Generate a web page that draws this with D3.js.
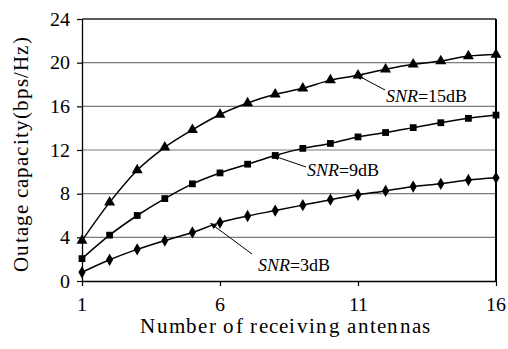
<!DOCTYPE html>
<html>
<head>
<meta charset="utf-8">
<style>
  @font-face { font-family: 'ChartSerif'; src: local('Liberation Serif'), local('LiberationSerif'), local('Liberation Serif Regular'); font-style: normal; font-weight: 400; }
  @font-face { font-family: 'ChartSerif'; src: local('Liberation Serif Italic'), local('LiberationSerif-Italic'); font-style: italic; font-weight: 400; }
  body { margin: 0; background: #fff; }
  svg text { font-family: 'ChartSerif', 'Liberation Serif', 'Times New Roman', serif; }
</style>
<script src="https://cdn.jsdelivr.net/npm/d3@7"></script>
</head>
<body>
<div id="chart"></div>
<script>
const antennas = d3.range(1, 17);
const snr15 = [3.7, 7.2, 10.15, 12.25, 13.85, 15.25, 16.3, 17.1, 17.65, 18.4, 18.85, 19.4, 19.85, 20.15, 20.6, 20.75];
const snr9 = [2.05, 4.2, 6.0, 7.55, 8.9, 9.9, 10.7, 11.5, 12.15, 12.6, 13.2, 13.6, 14.05, 14.5, 14.9, 15.2];
const snr3 = [0.8, 1.95, 2.9, 3.7, 4.45, 5.35, 5.95, 6.45, 6.95, 7.45, 7.9, 8.25, 8.65, 8.9, 9.25, 9.45];
const yTicks = [0, 4, 8, 12, 16, 20, 24];
const xTicks = [1, 6, 11, 16];

const FONT = "'ChartSerif', 'Liberation Serif', 'Times New Roman', serif";
const width = 508, height = 349;

const svg = d3.select('#chart').append('svg')
  .attr('width', width)
  .attr('height', height)
  .style('display', 'block');

const x = d3.scaleLinear().domain([1, 16]).range([82, 496]);
const y = d3.scaleLinear().domain([0, 24]).range([281, 19]);

// gridlines
svg.append('g')
  .selectAll('line')
  .data(yTicks.filter(t => t > 0 && t < 24))
  .join('line')
  .attr('x1', x(1)).attr('x2', x(16))
  .attr('y1', d => y(d)).attr('y2', d => y(d))
  .attr('stroke', '#7a7a7a')
  .attr('stroke-width', 1.2);

// top and right frame
svg.append('line')
  .attr('x1', x(1)).attr('x2', x(16))
  .attr('y1', y(24)).attr('y2', y(24))
  .attr('stroke', '#222').attr('stroke-width', 1.3);
svg.append('line')
  .attr('x1', x(16)).attr('x2', x(16))
  .attr('y1', y(24)).attr('y2', y(0))
  .attr('stroke', '#000').attr('stroke-width', 2);

// axes (ticks only, labels drawn below)
const yAxis = svg.append('g')
  .attr('transform', `translate(${x(1)},0)`)
  .call(d3.axisLeft(y).tickValues(yTicks).tickSize(5).tickFormat('').tickSizeOuter(0));
const xAxis = svg.append('g')
  .attr('transform', `translate(0,${y(0)})`)
  .call(d3.axisBottom(x).tickValues(xTicks).tickSize(5).tickFormat('').tickSizeOuter(0));

[yAxis, xAxis].forEach(a => {
  a.select('.domain').attr('stroke', '#000').attr('stroke-width', 1.3);
  a.selectAll('.tick line').attr('stroke', '#000').attr('stroke-width', 1.2);
});

svg.append('g')
  .selectAll('text')
  .data(yTicks)
  .join('text')
  .attr('class', 'lbl')
  .attr('x', x(1) - 12)
  .attr('y', d => y(d))
  .attr('dy', '0.34em')
  .attr('text-anchor', 'end')
  .style('font-size', '20px')
  .text(d => d);

svg.append('g')
  .selectAll('text')
  .data(xTicks)
  .join('text')
  .attr('class', 'lbl')
  .attr('x', d => x(d))
  .attr('y', 311)
  .attr('text-anchor', 'middle')
  .style('font-size', '20px')
  .text(d => d);

// axis titles
svg.append('text')
  .attr('class', 'lbl')
  .attr('x', 286)
  .attr('y', 333)
  .attr('text-anchor', 'middle')
  .style('font-size', '21px')
  .style('letter-spacing', '1.3px')
  .text('Number of receiving antennas');

svg.append('text')
  .attr('class', 'lbl')
  .attr('transform', 'rotate(-90)')
  .attr('x', -154)
  .attr('y', 28)
  .attr('text-anchor', 'middle')
  .style('font-size', '21px')
  .style('letter-spacing', '1.1px')
  .text('Outage capacity(bps/Hz)');

// series
const series = [
  { name: '15', values: snr15, symbol: d3.symbolTriangle, size: 52 },
  { name: '9', values: snr9, symbol: d3.symbolSquare, size: 46 },
  { name: '3', values: snr3, symbol: d3.symbolDiamond, size: 44 }
];

const line = d3.line()
  .x((d, i) => x(antennas[i]))
  .y(d => y(d))
  .curve(d3.curveMonotoneX);

series.forEach(s => {
  svg.append('path')
    .datum(s.values)
    .attr('fill', 'none')
    .attr('stroke', '#000')
    .attr('stroke-width', 1.5)
    .attr('d', line);

  svg.append('g')
    .selectAll('path')
    .data(s.values)
    .join('path')
    .attr('transform', (d, i) => `translate(${x(antennas[i])},${y(d)})`)
    .attr('d', d3.symbol().type(s.symbol).size(s.size))
    .attr('fill', '#000');
});

// annotations
svg.append('defs').append('marker')
  .attr('id', 'arr')
  .attr('viewBox', '0 0 10 10')
  .attr('refX', 1).attr('refY', 5)
  .attr('markerWidth', 7).attr('markerHeight', 7)
  .attr('orient', 'auto-start-reverse')
  .append('path')
  .attr('d', 'M0,1 L10,5 L0,9 Z')
  .attr('fill', '#000');

const notes = [
  { label: '15dB', ax: x(11) + 3, ay: y(snr15[10]) + 2, lx: 385, ly: 90, tx: 386, ty: 102 },
  { label: '9dB', ax: x(8) + 3, ay: y(snr9[7]) + 2, lx: 306, ly: 167, tx: 307, ty: 176 },
  { label: '3dB', ax: x(6) - 5, ay: y(snr3[5]) + 4, lx: 252, ly: 254, tx: 258, ty: 271 }
];

notes.forEach(n => {
  svg.append('line')
    .attr('x1', n.lx).attr('y1', n.ly)
    .attr('x2', n.ax).attr('y2', n.ay)
    .attr('stroke', '#000')
    .attr('stroke-width', 1)
    .attr('marker-end', 'url(#arr)');
  const t = svg.append('text')
    .attr('class', 'lbl')
    .attr('x', n.tx).attr('y', n.ty)
    .style('font-size', '18px');
  t.append('tspan').style('font-style', 'italic').text('SNR');
  t.append('tspan').text('=' + n.label);
});

// apply the serif font inline too, and again once it is loaded
function applyFont() {
  svg.selectAll('text.lbl').style('font-family', FONT);
}
applyFont();
if (document.fonts && document.fonts.load) {
  Promise.all([
    document.fonts.load("20px 'ChartSerif'"),
    document.fonts.load("italic 18px 'ChartSerif'")
  ]).then(applyFont, applyFont);
}
</script>
</body>
</html>
